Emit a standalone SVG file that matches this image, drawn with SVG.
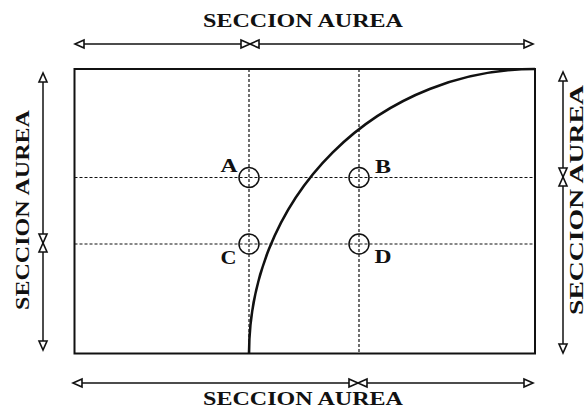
<svg xmlns="http://www.w3.org/2000/svg" width="588" height="408" viewBox="0 0 588 408">
<style>
.t{font-family:"Liberation Serif","DejaVu Serif",serif;font-weight:bold;font-size:19px;fill:#111}
.l{font-family:"Liberation Serif","DejaVu Serif",serif;font-weight:bold;font-size:18px;fill:#111}
.dim{stroke:#111;stroke-width:1.5;fill:none}
.dash{stroke:#111;stroke-width:1.2;stroke-dasharray:3 2;fill:none}
.head{fill:#fff;stroke:#111;stroke-width:1.6;stroke-linejoin:miter}
.ring{fill:none;stroke:#111;stroke-width:1.5}
</style>
<rect width="588" height="408" fill="#fff"/>
<g id="frame">
<rect x="74.5" y="69" width="460.5" height="284.5" fill="none" stroke="#111" stroke-width="2"/>
</g>
<g id="guides">
<line class="dash" x1="249" y1="69" x2="249" y2="353"/>
<line class="dash" x1="359" y1="69" x2="359" y2="353"/>
<line class="dash" x1="74.5" y1="177.5" x2="535" y2="177.5"/>
<line class="dash" x1="74.5" y1="244" x2="535" y2="244"/>
</g>
<g id="curve">
<path d="M249,353.5 A286,284.5 0 0 1 535,69" fill="none" stroke="#111" stroke-width="2.6"/>
</g>
<g id="point-A"><circle class="ring" cx="249" cy="177.5" r="10"/><text class="l" x="229" y="172" text-anchor="middle" textLength="17" lengthAdjust="spacingAndGlyphs">A</text></g>
<g id="point-B"><circle class="ring" cx="359" cy="177.5" r="10"/><text class="l" x="383" y="173" text-anchor="middle" textLength="16" lengthAdjust="spacingAndGlyphs">B</text></g>
<g id="point-C"><circle class="ring" cx="249" cy="244" r="10"/><text class="l" x="228.5" y="263.5" text-anchor="middle" textLength="16" lengthAdjust="spacingAndGlyphs">C</text></g>
<g id="point-D"><circle class="ring" cx="359" cy="244" r="10"/><text class="l" x="383" y="263" text-anchor="middle" textLength="17" lengthAdjust="spacingAndGlyphs">D</text></g>
<g id="connectors">
<!-- top -->
<line class="dim" x1="77" y1="44" x2="531" y2="44"/>
<path class="head" d="M75,44 L84,40 L84,48 Z"/>
<path class="head" d="M250,44 L241,40 L241,48 Z"/>
<path class="head" d="M250,44 L259,40 L259,48 Z"/>
<path class="head" d="M533,44 L524,40 L524,48 Z"/>
<!-- bottom -->
<line class="dim" x1="75" y1="383" x2="531" y2="383"/>
<path class="head" d="M73,383 L82,379 L82,387 Z"/>
<path class="head" d="M358,383 L349,379 L349,387 Z"/>
<path class="head" d="M358,383 L367,379 L367,387 Z"/>
<path class="head" d="M533,383 L524,379 L524,387 Z"/>
<!-- left -->
<line class="dim" x1="43" y1="75" x2="43" y2="348"/>
<path class="head" d="M43,73 L39,82 L47,82 Z"/>
<path class="head" d="M43,243 L39,234 L47,234 Z"/>
<path class="head" d="M43,243 L39,252 L47,252 Z"/>
<path class="head" d="M43,350 L39,341 L47,341 Z"/>
<!-- right -->
<line class="dim" x1="563" y1="74" x2="563" y2="351"/>
<path class="head" d="M563,72 L559,81 L567,81 Z"/>
<path class="head" d="M563,177 L559,168 L567,168 Z"/>
<path class="head" d="M563,177 L559,186 L567,186 Z"/>
<path class="head" d="M563,353 L559,344 L567,344 Z"/>
</g>
<g id="labels">
<text class="t" x="303" y="27" text-anchor="middle" textLength="200" lengthAdjust="spacingAndGlyphs">SECCION AUREA</text>
<text class="t" x="303" y="405" text-anchor="middle" textLength="200" lengthAdjust="spacingAndGlyphs">SECCION AUREA</text>
<text class="t" transform="translate(29,210) rotate(-90)" text-anchor="middle" textLength="200" lengthAdjust="spacingAndGlyphs">SECCION AUREA</text>
<text class="t" transform="translate(583,200) rotate(-90)" text-anchor="middle" textLength="230" lengthAdjust="spacingAndGlyphs">SECCION AUREA</text>
</g>
</svg>
